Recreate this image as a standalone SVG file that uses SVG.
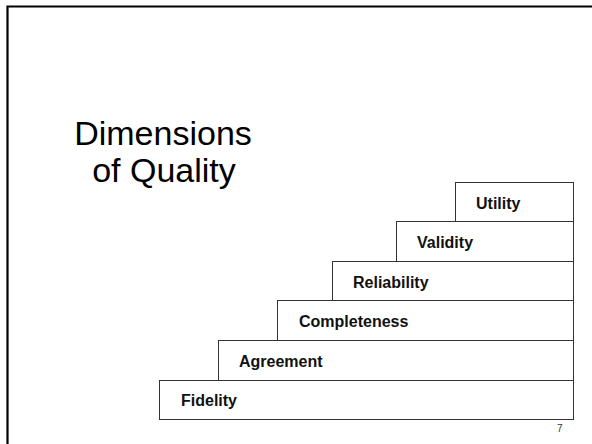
<svg xmlns="http://www.w3.org/2000/svg" width="592" height="444" viewBox="0 0 592 444">
<style>
.step rect{fill:#fff;stroke:#333;stroke-width:1}
.step text{font-family:"Liberation Sans",Arial,sans-serif;font-weight:bold;font-size:16px;fill:#111}
.title{font-family:"Liberation Sans",Arial,sans-serif;font-size:34px;fill:#000;text-anchor:middle}
</style>
<rect width="592" height="444" fill="#fff"/>
<path d="M7.5,444 V6.5 H592" fill="none" stroke="#000" stroke-width="2.2"/>
<text class="title" x="163" y="145">Dimensions</text>
<text class="title" x="164" y="182">of Quality</text>
<g id="fidelity" class="step"><rect x="159.5" y="380.5" width="414" height="39"/><text x="181" y="406">Fidelity</text></g>
<g id="agreement" class="step"><rect x="218.5" y="340.5" width="355" height="40"/><text x="239" y="366.5">Agreement</text></g>
<g id="completeness" class="step"><rect x="277.5" y="300.5" width="296" height="40"/><text x="299" y="326.5">Completeness</text></g>
<g id="reliability" class="step"><rect x="332.5" y="261.5" width="241" height="39"/><text x="353" y="287.5">Reliability</text></g>
<g id="validity" class="step"><rect x="396.5" y="221.5" width="177" height="40"/><text x="417" y="248">Validity</text></g>
<g id="utility" class="step"><rect x="455.5" y="182.5" width="118" height="39"/><text x="476" y="209">Utility</text></g>
<g id="connectors"></g>
<text x="557" y="432" font-family="Liberation Sans,Arial,sans-serif" font-size="10" fill="#333">7</text>
</svg>
